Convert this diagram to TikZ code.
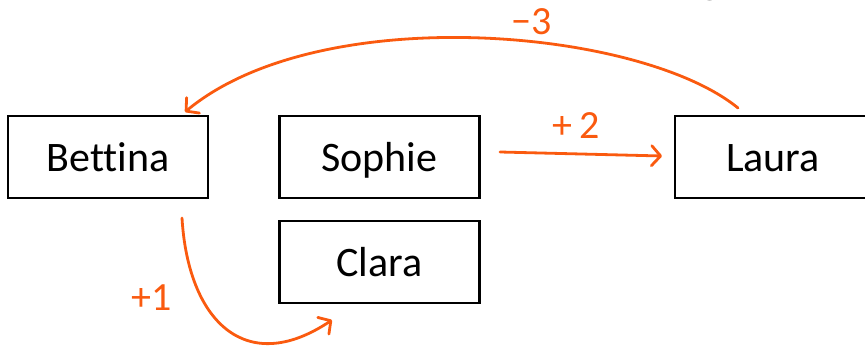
\documentclass[tikz,border=0pt]{standalone}
\usepackage{fontspec}
\setmainfont{Carlito}[Ligatures=CommonOff]
\usetikzlibrary{arrows.meta}
\definecolor{pen}{RGB}{250,90,15}
\begin{document}
\begin{tikzpicture}[x=1pt,y=-1pt,
  person/.style={draw=black,line width=2.6pt,minimum width=200pt,minimum height=82pt,
    inner sep=0pt,text height=30pt,text depth=0pt,font=\fontsize{42}{50}\selectfont},
  stroke/.style={draw=pen,line width=2.8pt,line cap=round,
    -{Straight Barb[length=9pt,width=20pt,line cap=round,line join=round]}},
  note/.style={text=pen,inner sep=0pt,font=\fontsize{40}{48}\selectfont}]
\useasboundingbox (0,0) rectangle (865,347);
\clip (0,0) rectangle (865,347);

% heading text running off the top edge
\node[anchor=base,inner sep=0pt,font=\fontsize{42}{50}\selectfont] (head) at (710,-6) {g};

% the four people
\node[person] (bettina) at (108,157) {Bettina};
\node[person] (sophie) at (379.5,157) {Sophie};
\node[person] (clara) at (379.5,262) {Clara};
\node[person,minimum width=196pt] (laura) at (773,157) {Laura};

% end points of the hand-drawn arrows
\coordinate (m3s) at (738,108);
\coordinate (m3e) at (185,112);
\coordinate (p2s) at (500,152);
\coordinate (p2e) at (662,156);
\coordinate (p1s) at (182,218);
\coordinate (p1e) at (332,320);

% arrows
\draw[stroke] (m3s) .. controls (640,28) and (320,0) .. (m3e);
\draw[stroke] (p2s) -- (p2e);
\draw[stroke] (p1s) .. controls (188,320) and (245,378) .. (p1e);

% arrow labels
\node[note] (lm3) at (532,22) {−3};
\node[note] (lp2) at (576,126) {+\,2};
\node[note] (lp1) at (152,298) {+1};
\end{tikzpicture}
\end{document}
